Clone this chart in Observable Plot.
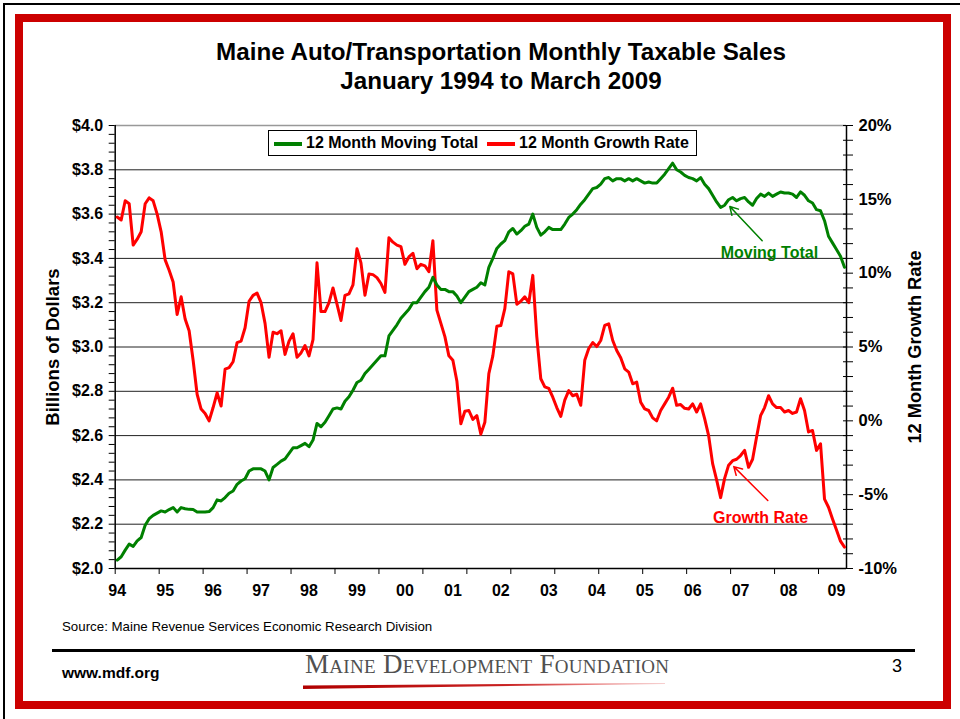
<!DOCTYPE html>
<html><head><meta charset="utf-8">
<script src="https://cdn.jsdelivr.net/npm/d3@7"></script>
<script src="https://cdn.jsdelivr.net/npm/@observablehq/plot@0.6"></script>
<style>
body{margin:0;background:#fff;font-family:"Liberation Sans",Arial,sans-serif;}
#page{position:relative;width:960px;height:719px;overflow:hidden;background:#fff;}
.abs{position:absolute;}
#title{left:40px;width:922px;top:38px;text-align:center;font-weight:bold;font-size:24.2px;line-height:28.5px;color:#000;}
#legend{left:268px;top:130px;width:427px;height:24px;border:1px solid #000;background:#fff;font-weight:bold;font-size:16px;}
#legend .sw{position:absolute;top:11px;width:28px;height:4px;}
#legend .lt{position:absolute;top:3px;white-space:nowrap;}
</style></head><body>
<div id="page">
  <div class="abs" style="left:3px;top:3px;width:960px;height:720px;border-left:2px solid #000;border-top:2px solid #000;"></div>
  <div class="abs" style="left:15px;top:14px;width:920px;height:679px;border:8px solid #cc0000;"></div>
  <div id="title" class="abs">Maine Auto/Transportation Monthly Taxable Sales<br>January 1994 to March 2009</div>
  <div id="chart" class="abs" style="left:0;top:110px;"></div>
  <div id="legend" class="abs">
    <div class="sw" style="left:5px;background:#008000;"></div>
    <div class="lt" style="left:37px;">12 Month Moving Total</div>
    <div class="sw" style="left:218px;background:#ff0000;"></div>
    <div class="lt" style="left:250px;">12 Month Growth Rate</div>
  </div>
  <div class="abs" style="left:62px;top:619px;font-size:13.3px;color:#000;white-space:nowrap;">Source: Maine Revenue Services Economic Research Division</div>
  <div class="abs" style="left:52px;top:649px;width:863px;height:3px;background:#000;"></div>
  <div class="abs" style="left:62px;top:664px;font-size:15.5px;font-weight:bold;color:#000;">www.mdf.org</div>
  <div class="abs" style="left:305px;top:649px;font-family:'Liberation Serif','DejaVu Serif',serif;font-variant:small-caps;font-size:27px;color:#505050;letter-spacing:0.3px;white-space:nowrap;">Maine Development Foundation</div>
  <div class="abs" style="left:303px;top:683px;width:362px;height:6px;background:linear-gradient(90deg,#b00000,#c82020 55%,#e88080 80%,#f6d0d0);clip-path:polygon(0 100%,0 40%,100% 0,100% 15%);"></div>
  <div class="abs" style="left:892px;top:656px;font-size:18px;color:#000;">3</div>
</div>
<script>
// ---- data ----
const yearLabels = ["94","95","96","97","98","99","00","01","02","03","04","05","06","07","08","09"];
const dollarTicks = [2.0, 2.2, 2.4, 2.6, 2.8, 3.0, 3.2, 3.4, 3.6, 3.8, 4.0];
const pctTicks = [-10, -5, 0, 5, 10, 15, 20];

// 12 month moving total, billions of dollars, Jan 1994 .. Mar 2009
const movingTotal = [
  2.038, 2.053, 2.083, 2.11, 2.10, 2.125, 2.14, 2.195, 2.225, 2.24, 2.25, 2.26,
  2.255, 2.266, 2.275, 2.255, 2.275, 2.27, 2.267, 2.266, 2.255, 2.255, 2.255, 2.257,
  2.275, 2.31, 2.305, 2.32, 2.34, 2.35, 2.38, 2.395, 2.405, 2.44, 2.45, 2.45,
  2.45, 2.44, 2.40, 2.456, 2.47, 2.485, 2.495, 2.52, 2.545, 2.545, 2.555, 2.565,
  2.55, 2.58, 2.655, 2.64, 2.66, 2.69, 2.72, 2.725, 2.72, 2.755, 2.775, 2.805,
  2.84, 2.85, 2.88, 2.90, 2.92, 2.94, 2.96, 2.96, 3.05, 3.075, 3.10, 3.13,
  3.15, 3.17, 3.20, 3.20, 3.225, 3.25, 3.27, 3.315, 3.28, 3.26, 3.26, 3.25,
  3.25, 3.23, 3.20, 3.225, 3.25, 3.26, 3.27, 3.29, 3.28, 3.36, 3.40, 3.445,
  3.465, 3.48, 3.52, 3.535, 3.51, 3.525, 3.545, 3.555, 3.60, 3.54, 3.505, 3.52,
  3.54, 3.53, 3.53, 3.53, 3.555, 3.585, 3.60, 3.62, 3.645, 3.665, 3.69, 3.715,
  3.72, 3.735, 3.76, 3.765, 3.75, 3.76, 3.76, 3.75, 3.76, 3.75, 3.76, 3.75,
  3.74, 3.745, 3.74, 3.74, 3.76, 3.78, 3.805, 3.83, 3.80, 3.79, 3.775,
  3.765, 3.76, 3.75, 3.765, 3.735, 3.715, 3.685, 3.655, 3.63, 3.64, 3.665, 3.675,
  3.66, 3.67, 3.675, 3.655, 3.64, 3.67, 3.69, 3.68, 3.695, 3.68, 3.69, 3.70,
  3.695, 3.695, 3.69, 3.675, 3.70, 3.685, 3.66, 3.65, 3.62, 3.615, 3.57, 3.50,
  3.47, 3.44, 3.41, 3.36
];

// 12 month growth rate, percent, Jan 1994 .. Mar 2009
const growthRate = [
  13.8, 13.6, 14.9, 14.7, 11.9, 12.3, 12.8, 14.7, 15.1, 14.9, 14.0, 12.8,
  10.9, 10.2, 9.4, 7.2, 8.4, 6.9, 6.1, 4.1, 1.8, 0.8, 0.5, 0.0,
  0.9, 1.9, 1.0, 3.5, 3.6, 4.0, 5.3, 5.4, 6.3, 8.1, 8.5, 8.65,
  8.0, 6.6, 4.3, 6.0, 5.9, 6.1, 4.5, 5.4, 5.9, 4.3, 4.6, 5.1,
  4.4, 5.5, 10.7, 7.4, 7.4, 8.0, 9.0, 7.9, 6.8, 8.5, 8.6, 9.2,
  11.65, 10.7, 8.5, 9.95, 9.9, 9.7, 9.3, 8.7, 12.4, 12.1, 11.9, 11.8,
  10.6, 11.1, 11.35, 10.3, 10.6, 10.5, 10.1, 12.2, 7.5, 6.6, 5.7, 4.4,
  4.1, 2.7, -0.2, 0.65, 0.7, 0.1, 0.35, -0.9, -0.1, 3.2, 4.4, 6.4,
  6.45, 7.6, 10.1, 9.95, 7.9, 8.1, 8.4, 8.0, 9.85, 5.7, 2.85, 2.3,
  2.2, 1.6, 0.9, 0.3, 1.4, 2.05, 1.7, 1.8, 1.05, 4.1, 4.9, 5.3,
  5.03, 5.44, 6.46, 6.57, 5.44, 4.76, 4.27, 3.52, 3.3, 2.51, 2.62, 1.26,
  0.81, 0.7, 0.2, 0.0, 0.7, 1.15, 1.6, 2.21, 1.05, 1.1, 0.85,
  0.8, 1.15, 0.6, 1.15, 0.15, -1.0, -2.9, -4.0, -5.2, -3.9, -3.0, -2.7,
  -2.6, -2.35, -2.0, -3.15, -2.6, -1.1, 0.35, 0.9, 1.7, 1.15, 0.9, 0.9,
  0.6, 0.7, 0.5, 0.6, 1.5, 0.7, -0.75, -0.65, -2.0, -1.55, -5.3, -5.85,
  -6.65, -7.4, -8.15, -8.55
];

// callouts (month index, value in the series' own unit)
const movingNote = {label: "Moving Total", tipI: 153.3, tipV: 3.634, tailI: 161.4, tailV: 3.48, textI: 163.2, textV: 3.427};
const growthNote = {label: "Growth Rate", tipI: 154.3, tipV: -3.1, tailI: 162.8, tailV: -5.4, textI: 161.0, textV: -6.6};

// ---- chart ----
const pctToY = p => 2 + (p + 10) / 15;       // right axis mapped onto left axis
const yToPct = y => Math.round((y - 2) * 15 - 10);
const rows = movingTotal.map((v, i) => ({i, total: v, growth: growthRate[i]}));
const n = rows.length;
const labelIdx = yearLabels.map((_, k) => k * 12);
const xTickIdx = d3.range(-0.5, n, 11);
const minorDollar = d3.range(0, 51).map(k => 2 + k * 0.04);
const minorPct = d3.range(-10, 21).map(pctToY);
const font = {fontFamily: "'Liberation Sans', Arial, sans-serif", fontWeight: "bold", fontSize: 16};

const chart = Plot.plot({
  width: 960, height: 500,
  marginLeft: 114.7, marginRight: 114, marginTop: 15, marginBottom: 42,
  x: {domain: [-0.5, n - 0.5], axis: null},
  y: {domain: [2, 4], axis: null},
  style: {background: "transparent", color: "#000", fontFamily: "'Liberation Sans', Arial, sans-serif"},
  marks: [
    Plot.ruleY(dollarTicks.filter(d => d > 2 && d < 4), {stroke: "#222", strokeWidth: 1}),
    Plot.ruleY([4], {stroke: "#999", strokeWidth: 1.5}),
    Plot.ruleX([-0.5, n - 0.5], {stroke: "#000", strokeWidth: 1.5}),
    Plot.ruleY([2], {stroke: "#000", strokeWidth: 1.5}),
    // left axis
    Plot.axisY(minorDollar, {anchor: "left", tickSize: 6, tickFormat: () => "", stroke: "#000"}),
    Plot.axisY(dollarTicks, {anchor: "left", tickSize: 0, tickPadding: 12, tickFormat: d => "$" + d.toFixed(1), ...font}),
    // right axis
    Plot.axisY(minorPct, {anchor: "right", tickSize: 10, dx: -4, tickFormat: () => "", stroke: "#000"}),
    Plot.axisY(pctTicks.map(pctToY), {anchor: "right", tickSize: 0, tickPadding: 12, tickFormat: d => yToPct(d) + "%", ...font, fontSize: 16.5}),
    // x axis
    Plot.axisX(xTickIdx, {anchor: "bottom", tickSize: 6, tickFormat: () => "", stroke: "#000"}),
    Plot.axisX(labelIdx, {anchor: "bottom", tickSize: 0, tickPadding: 16, tickFormat: i => yearLabels[i / 12], ...font}),
    // axis titles
    Plot.text(["Billions of Dollars"], {frameAnchor: "left", textAnchor: "middle", dx: -62, rotate: -90, text: d => d, ...font, fontSize: 18.5}),
    Plot.text(["12 Month Growth Rate"], {frameAnchor: "right", textAnchor: "middle", dx: 69, rotate: -90, text: d => d, ...font, fontSize: 18.2}),
    // series
    Plot.line(rows, {x: "i", y: d => pctToY(d.growth), stroke: "#ff0000", strokeWidth: 3, strokeLinejoin: "round"}),
    Plot.line(rows, {x: "i", y: "total", stroke: "#008000", strokeWidth: 3, strokeLinejoin: "round"}),
    // callouts
    Plot.arrow([movingNote], {x1: "tailI", y1: "tailV", x2: "tipI", y2: "tipV", stroke: "#008000", strokeWidth: 1.5, headLength: 9}),
    Plot.text([movingNote], {x: "textI", y: "textV", text: "label", fill: "#008000", ...font}),
    Plot.arrow([growthNote], {x1: "tailI", y1: d => pctToY(d.tailV), x2: "tipI", y2: d => pctToY(d.tipV), stroke: "#ff0000", strokeWidth: 1.5, headLength: 9}),
    Plot.text([growthNote], {x: "textI", y: d => pctToY(d.textV), text: "label", fill: "#ff0000", ...font})
  ]
});
document.getElementById("chart").appendChild(chart);
</script>
</body></html>
